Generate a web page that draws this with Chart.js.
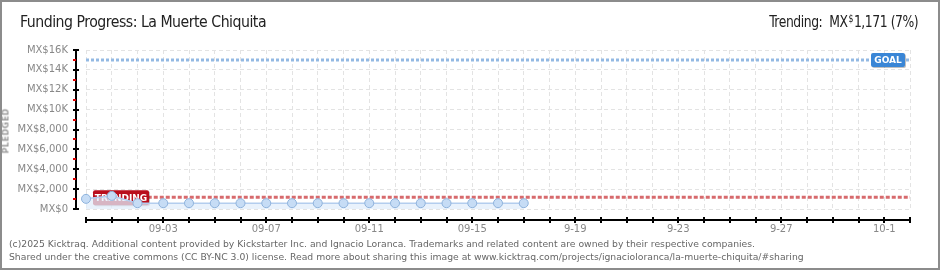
<!DOCTYPE html>
<html>
<head>
<meta charset="utf-8">
<script src="https://cdn.jsdelivr.net/npm/chart.js@4"></script>
<style>
  html, body { margin: 0; padding: 0; background: #fff; }
  #wrap { position: relative; width: 940px; height: 270px; box-sizing: border-box; border: 2px solid #8c8c8c; overflow: hidden; }
  #myChart { position: absolute; left: -2px; top: -2px; }
  .head { position: absolute; top: 10px; font: 16px "Liberation Sans Narrow", "DejaVu Sans Condensed", sans-serif; color: #222; white-space: nowrap; letter-spacing: -0.5px; }
  #title { left: 18px; transform-origin: left center; transform: scaleX(0.98); }
  #trend { right: 20px; transform-origin: right center; transform: scaleX(0.86); }
  #trend .cur { font-size: 10px; vertical-align: 5px; margin: 0 1px; }
  #ytitle { position: absolute; left: -18px; top: 125px; width: 44px; text-align: center; transform: rotate(-90deg); font: bold 8px "DejaVu Sans", sans-serif; color: #999; letter-spacing: 0.5px; }
  #foot { position: absolute; left: 7px; top: 235px; font: 9.25px "DejaVu Sans", sans-serif; color: #666; line-height: 13px; white-space: nowrap; }
</style>
</head>
<body>
<div id="wrap">
  <canvas id="myChart" width="940" height="270"></canvas>
  <div class="head" id="title">Funding Progress: La Muerte Chiquita</div>
  <div class="head" id="trend">Trending:&nbsp; MX<span class="cur">$</span>1,171 (7%)</div>
  <div id="ytitle">PLEDGED</div>
  <div id="foot">(c)2025 Kicktraq. Additional content provided by Kickstarter Inc. and Ignacio Loranca. Trademarks and related content are owned by their respective companies.<br>Shared under the creative commons (CC BY-NC 3.0) license. Read more about sharing this image at www.kicktraq.com/projects/ignacioloranca/la-muerte-chiquita/#sharing</div>
</div>
<script>
// days on the x axis (08-31 .. 10-2)
const days = [
  "08-31", "09-01", "09-02", "09-03", "09-04", "09-05", "09-06", "09-07",
  "09-08", "09-09", "09-10", "09-11", "09-12", "09-13", "09-14", "09-15",
  "09-16", "09-17", "09-18", "9-19", "9-20", "9-21", "9-22", "9-23",
  "9-24", "9-25", "9-26", "9-27", "9-28", "9-29", "9-30", "10-1", "10-2",
];
const dayLabels = ["09-03", "09-07", "09-11", "09-15", "9-19", "9-23", "9-27", "10-1"];

// pledged total per day, MX$
const pledged = [1020, 1320, 585, 585, 585, 585, 585, 585, 585, 585, 585, 585, 585, 585, 585, 585, 585, 585];
const goal = 15000;
const trending = 1171;

const yTicks = [0, 2000, 4000, 6000, 8000, 10000, 12000, 14000, 16000];
const yTickLabels = ["MX$0", "MX$2,000", "MX$4,000", "MX$6,000", "MX$8,000", "MX$10K", "MX$12K", "MX$14K", "MX$16K"];

const goalData = days.map(() => goal);
const trendData = days.map((d, i) => (i === 0 ? null : trending));

function labelBox(ctx, x, y, w, h, fill, text) {
  ctx.save();
  ctx.fillStyle = "rgba(0,0,0,0.25)";
  ctx.beginPath();
  ctx.roundRect(x + 1, y + 1, w, h, 2);
  ctx.fill();
  ctx.fillStyle = fill;
  ctx.beginPath();
  ctx.roundRect(x, y, w, h, 2);
  ctx.fill();
  ctx.fillStyle = "#fff";
  ctx.font = "bold 9px 'DejaVu Sans', sans-serif";
  ctx.textBaseline = "middle";
  ctx.textAlign = "center";
  ctx.fillText(text, x + w / 2, y + h / 2 + 1);
  ctx.restore();
}

// goal / trending tags, drawn between the reference lines and the pledged series
const tags = {
  id: "tags",
  afterDatasetDraw(chart, args) {
    if (args.index !== 1) return;
    const { ctx, chartArea } = chart;
    const y = chart.scales.y;
    const x = chart.scales.x;
    const gy = y.getPixelForValue(goal);
    labelBox(ctx, chartArea.right - 39, gy - 7, 34, 14, "#3a86d6", "GOAL");
    const ty = y.getPixelForValue(trending);
    labelBox(ctx, x.getPixelForValue(0) + 7, ty - 7, 56, 15, "#b90e1c", "TRENDING");
  },
};

// axis lines sit a little away from the plot, like the original
const axes = {
  id: "axes",
  afterDraw(chart) {
    const { ctx, chartArea } = chart;
    const y = chart.scales.y;
    const x = chart.scales.x;
    ctx.save();
    ctx.lineWidth = 2;
    const ax = chartArea.left - 10;
    ctx.strokeStyle = "#000";
    ctx.beginPath();
    ctx.moveTo(ax, y.getPixelForValue(16000) - 1);
    ctx.lineTo(ax, y.getPixelForValue(0) + 1);
    ctx.stroke();
    for (let v = 0; v <= 16000; v += 1000) {
      const py = Math.round(y.getPixelForValue(v));
      const major = v % 2000 === 0;
      ctx.strokeStyle = major ? "#000" : "#e00000";
      ctx.beginPath();
      ctx.moveTo(ax - 3, py);
      ctx.lineTo(major ? ax + 3 : ax, py);
      ctx.stroke();
    }
    const ay = chartArea.bottom + 11;
    ctx.strokeStyle = "#000";
    ctx.beginPath();
    ctx.moveTo(x.getPixelForValue(0) - 1, ay);
    ctx.lineTo(x.getPixelForValue(days.length - 1) + 1, ay);
    ctx.stroke();
    days.forEach((d, i) => {
      const px = Math.round(x.getPixelForValue(i));
      ctx.beginPath();
      ctx.moveTo(px, ay - 3);
      ctx.lineTo(px, ay + 3);
      ctx.stroke();
    });
    ctx.restore();
  },
};

const ctx = document.getElementById("myChart");
const config = {
  type: "line",
  data: {
    labels: days,
    datasets: [
      {
        label: "Goal",
        data: goalData,
        borderColor: "#93b9e3",
        borderWidth: 3,
        borderDash: [3, 2],
        pointRadius: 0,
        fill: false,
        order: 3,
      },
      {
        label: "Trending",
        data: trendData,
        borderColor: "#d76a6d",
        borderWidth: 3,
        borderDash: [4, 2],
        pointRadius: 0,
        fill: false,
        order: 2,
      },
      {
        label: "Pledged",
        data: pledged,
        borderColor: "#b3cdee",
        borderWidth: 1.5,
        backgroundColor: "rgba(225,237,251,0.75)",
        fill: "origin",
        pointRadius: 4.5,
        pointBackgroundColor: "#c6dcf5",
        pointBorderColor: "#8fb3dc",
        pointBorderWidth: 1,
        tension: 0,
        order: 1,
      },
    ],
  },
  options: {
    responsive: false,
    animation: false,
    layout: { padding: { top: 50, right: 30, left: 0, bottom: 31 } },
    plugins: { legend: { display: false }, tooltip: { enabled: false } },
    scales: {
      x: {
        type: "category",
        offset: false,
        border: { display: false, dash: [4, 3] },
        grid: { color: "#e3e3e3", drawTicks: false, borderDash: [4, 3] },
        ticks: {
          autoSkip: false,
          maxRotation: 0,
          padding: 14,
          color: "#888",
          font: { family: "'DejaVu Sans', sans-serif", size: 10 },
          callback: (v, i) => (dayLabels.includes(days[i]) ? days[i] : ""),
        },
        afterFit: (s) => { s.height = 30; },
      },
      y: {
        min: 0,
        max: 16000,
        border: { display: false, dash: [4, 3] },
        grid: { color: "#e3e3e3", drawTicks: false, borderDash: [4, 3] },
        ticks: {
          stepSize: 2000,
          padding: 18,
          color: "#888",
          font: { family: "'DejaVu Sans', sans-serif", size: 10 },
          callback: (v) => yTickLabels[yTicks.indexOf(v)],
        },
        afterFit: (s) => { s.width = 86; },
      },
    },
  },
  plugins: [tags, axes],
};
const myChart = new Chart(ctx, config);
</script>
</body>
</html>
